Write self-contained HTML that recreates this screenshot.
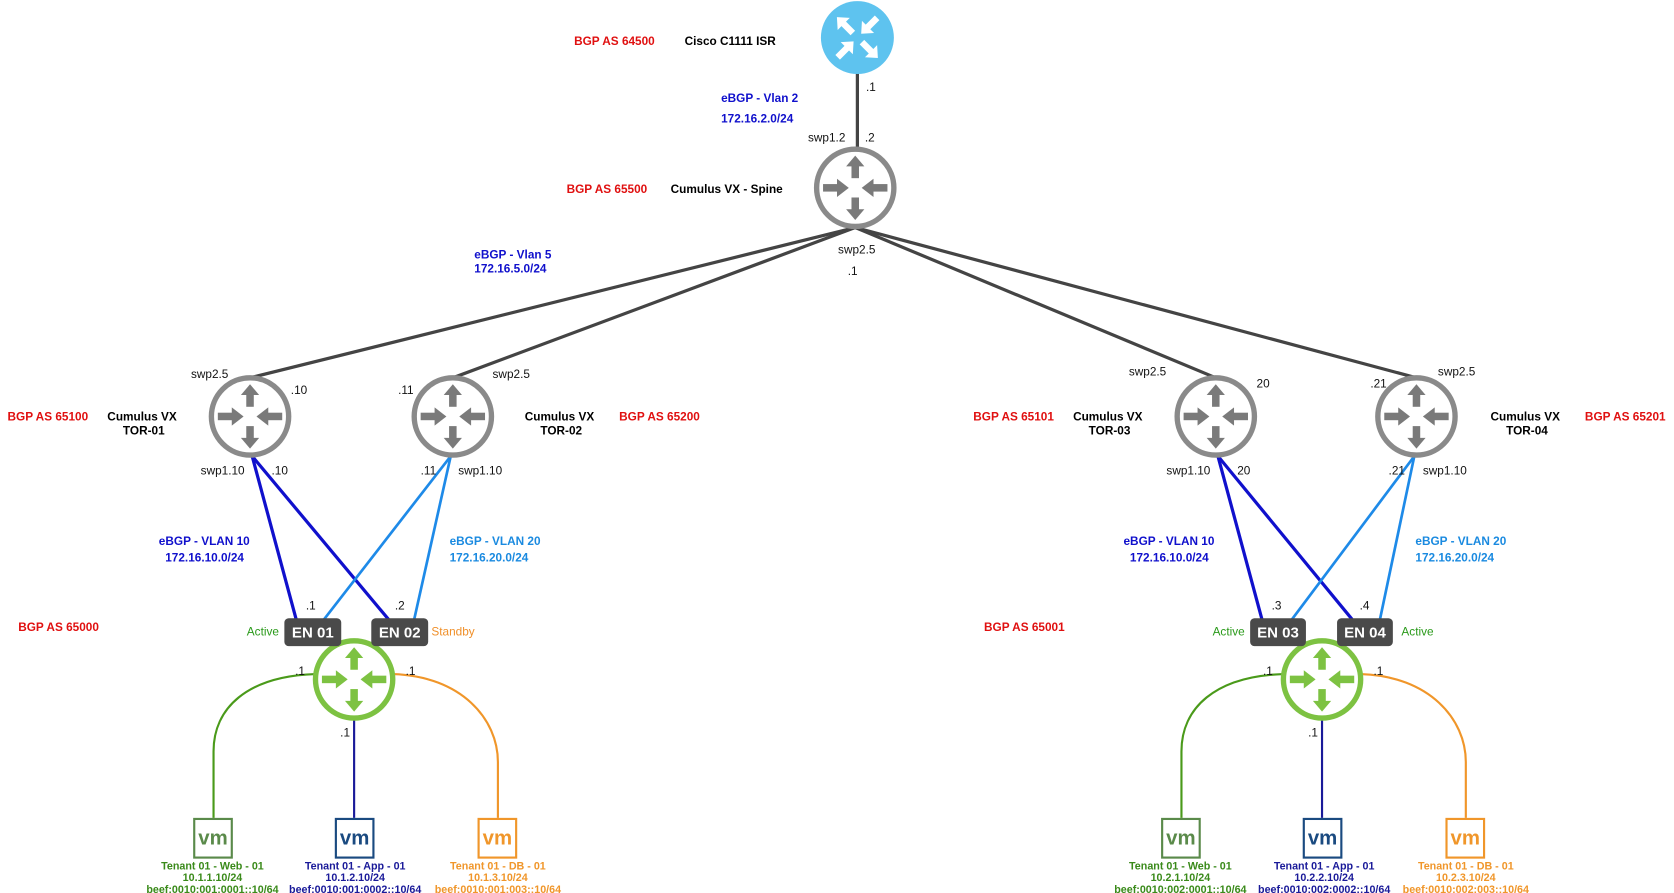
<!DOCTYPE html>
<html><head><meta charset="utf-8">
<style>
html,body{margin:0;padding:0;background:#fff;}
svg{display:block;}
text{font-family:"Liberation Sans",Arial,sans-serif;font-size:11px;}
.b{font-weight:bold;}
.r{fill:#e01010;font-weight:bold;}
.k{fill:#000;font-weight:bold;}
.bl{fill:#1010cc;font-weight:bold;}
.lb{fill:#1a8ae0;font-weight:bold;}
.n{fill:#111;}
.g{fill:#3a8a1a;font-weight:bold;font-size:10px;}
.nv{fill:#1a1a99;font-weight:bold;font-size:10px;}
.o{fill:#f0962a;font-weight:bold;font-size:10px;}
</style></head><body>
<svg width="1674" height="893" viewBox="0 0 1560 832" preserveAspectRatio="none" xmlns="http://www.w3.org/2000/svg">
<defs>
<g id="arr">
  <rect x="-3.5" y="-21" width="7" height="12"/>
  <polygon points="-8.5,-20 8.5,-20 0,-30"/>
  <rect x="-3.5" y="9" width="7" height="12"/>
  <polygon points="-8.5,20 8.5,20 0,30"/>
  <rect x="-30" y="-3.5" width="14" height="7"/>
  <polygon points="-17,-8.5 -17,8.5 -6,0"/>
  <rect x="16" y="-3.5" width="14" height="7"/>
  <polygon points="17,-8.5 17,8.5 6,0"/>
</g>
<g id="grey">
  <circle r="36" fill="#fff" stroke="#8a8a8a" stroke-width="5"/>
  <use href="#arr" fill="#7a7a7a"/>
</g>
<g id="green">
  <circle r="36" fill="#fff" stroke="#7dc242" stroke-width="5"/>
  <use href="#arr" fill="#7dc242"/>
</g>
</defs>

<!-- lines -->
<g stroke="#444" stroke-width="3" fill="none">
<line x1="799" y1="68" x2="799" y2="140"/>
<line x1="797" y1="212" x2="233" y2="352"/>
<line x1="797" y1="212" x2="422" y2="352"/>
<line x1="797" y1="212" x2="1133" y2="352"/>
<line x1="797" y1="212" x2="1320" y2="352"/>
</g>
<g stroke="#1010cc" stroke-width="3">
<line x1="235" y1="425" x2="276" y2="577"/>
<line x1="235" y1="425" x2="362" y2="577"/>
<line x1="1135" y1="425" x2="1176" y2="577"/>
<line x1="1135" y1="425" x2="1260" y2="577"/>
</g>
<g stroke="#1e8ae8" stroke-width="2.5">
<line x1="420" y1="425" x2="302" y2="577"/>
<line x1="420" y1="425" x2="386" y2="577"/>
<line x1="1318" y1="425" x2="1204" y2="577"/>
<line x1="1318" y1="425" x2="1286" y2="577"/>
</g>
<g fill="none" stroke-width="2">
<path d="M294,628 C230,630 199,660 199,700 L199,762" stroke="#4a9a1a"/>
<path d="M366,628 C430,630 464,670 464,710 L464,762" stroke="#f0962a"/>
<line x1="330" y1="670" x2="330" y2="762" stroke="#1a1a99"/>
<path d="M1196,628 C1132,630 1101,660 1101,700 L1101,762" stroke="#4a9a1a"/>
<path d="M1268,628 C1332,630 1366,670 1366,710 L1366,762" stroke="#f0962a"/>
<line x1="1232" y1="670" x2="1232" y2="762" stroke="#1a1a99"/>
</g>

<!-- Cisco -->
<g transform="translate(799,35)">
<circle r="34" fill="#5ec3ef"/>
<g fill="#fff">
<g transform="rotate(45)"><polygon points="-3,-26 3,-26 3,-14 8,-14 0,-5 -8,-14 -3,-14"/></g>
<g transform="rotate(45)"><polygon points="-3,26 3,26 3,14 8,14 0,5 -8,14 -3,14"/></g>
<g transform="rotate(-45)"><polygon points="-3,-6 3,-6 3,-18 8,-18 0,-27 -8,-18 -3,-18"/></g>
<g transform="rotate(-45)"><polygon points="-3,6 3,6 3,18 8,18 0,27 -8,18 -3,18"/></g>
</g>
</g>

<use href="#grey" x="797" y="175"/>
<use href="#grey" x="233" y="388"/>
<use href="#grey" x="422" y="388"/>
<use href="#grey" x="1133" y="388"/>
<use href="#grey" x="1320" y="388"/>
<use href="#green" x="330" y="633"/>
<use href="#green" x="1232" y="633"/>

<!-- EN boxes -->
<g fill="#4a4a4a">
<rect x="265" y="576" width="53" height="26" rx="4"/>
<rect x="346" y="576" width="53" height="26" rx="4"/>
<rect x="1165" y="576" width="52" height="26" rx="4"/>
<rect x="1246" y="576" width="52" height="26" rx="4"/>
</g>
<g fill="#fff" font-weight="bold" text-anchor="middle" style="font-size:14px">
<text x="291.5" y="594" style="font-size:14px">EN 01</text>
<text x="372.5" y="594" style="font-size:14px">EN 02</text>
<text x="1191" y="594" style="font-size:14px">EN 03</text>
<text x="1272" y="594" style="font-size:14px">EN 04</text>
</g>

<!-- VMs -->
<g fill="#fff" stroke-width="2">
<rect x="181" y="763" width="35" height="36" stroke="#5a8a4a"/>
<rect x="313" y="763" width="35" height="36" stroke="#1a4a80"/>
<rect x="446" y="763" width="35" height="36" stroke="#f0962a"/>
<rect x="1083" y="763" width="35" height="36" stroke="#5a8a4a"/>
<rect x="1215" y="763" width="35" height="36" stroke="#1a4a80"/>
<rect x="1348" y="763" width="35" height="36" stroke="#f0962a"/>
</g>
<g font-weight="bold" text-anchor="middle">
<text x="198.5" y="787" fill="#5a8a4a" style="font-size:19px">vm</text>
<text x="330.5" y="787" fill="#1a4a80" style="font-size:19px">vm</text>
<text x="463.5" y="787" fill="#f0962a" style="font-size:19px">vm</text>
<text x="1100.5" y="787" fill="#5a8a4a" style="font-size:19px">vm</text>
<text x="1232.5" y="787" fill="#1a4a80" style="font-size:19px">vm</text>
<text x="1365.5" y="787" fill="#f0962a" style="font-size:19px">vm</text>
</g>
<g text-anchor="middle">
<text class="g" x="198" y="810">Tenant 01 - Web - 01</text>
<text class="g" x="198" y="821">10.1.1.10/24</text>
<text class="g" x="198" y="832">beef:0010:001:0001::10/64</text>
<text class="nv" x="331" y="810">Tenant 01 - App - 01</text>
<text class="nv" x="331" y="821">10.1.2.10/24</text>
<text class="nv" x="331" y="832">beef:0010:001:0002::10/64</text>
<text class="o" x="464" y="810">Tenant 01 - DB - 01</text>
<text class="o" x="464" y="821">10.1.3.10/24</text>
<text class="o" x="464" y="832">beef:0010:001:003::10/64</text>
<text class="g" x="1100" y="810">Tenant 01 - Web - 01</text>
<text class="g" x="1100" y="821">10.2.1.10/24</text>
<text class="g" x="1100" y="832">beef:0010:002:0001::10/64</text>
<text class="nv" x="1234" y="810">Tenant 01 - App - 01</text>
<text class="nv" x="1234" y="821">10.2.2.10/24</text>
<text class="nv" x="1234" y="832">beef:0010:002:0002::10/64</text>
<text class="o" x="1366" y="810">Tenant 01 - DB - 01</text>
<text class="o" x="1366" y="821">10.2.3.10/24</text>
<text class="o" x="1366" y="832">beef:0010:002:003::10/64</text>
</g>

<!-- labels -->
<text class="r" x="535" y="42">BGP AS 64500</text>
<text class="k" x="638" y="42">Cisco C1111 ISR</text>
<text class="n" x="807" y="85">.1</text>
<text class="bl" x="672" y="95">eBGP - Vlan 2</text>
<text class="bl" x="672" y="114">172.16.2.0/24</text>
<text class="n" x="753" y="132">swp1.2</text>
<text class="n" x="806" y="132">.2</text>
<text class="r" x="528" y="180">BGP AS 65500</text>
<text class="k" x="625" y="180">Cumulus VX - Spine</text>
<text class="bl" x="442" y="241">eBGP - Vlan 5</text>
<text class="bl" x="442" y="254">172.16.5.0/24</text>
<text class="n" x="781" y="236">swp2.5</text>
<text class="n" x="790" y="256">.1</text>

<text class="n" x="178" y="352">swp2.5</text>
<text class="n" x="271" y="367">.10</text>
<text class="n" x="371" y="367">.11</text>
<text class="n" x="459" y="352">swp2.5</text>
<text class="n" x="1052" y="350">swp2.5</text>
<text class="n" x="1171" y="361">20</text>
<text class="n" x="1277" y="361">.21</text>
<text class="n" x="1340" y="350">swp2.5</text>

<text class="r" x="7" y="392">BGP AS 65100</text>
<text class="k" x="100" y="392">Cumulus VX</text>
<text class="k" x="134" y="405" text-anchor="middle">TOR-01</text>
<text class="k" x="489" y="392">Cumulus VX</text>
<text class="k" x="523" y="405" text-anchor="middle">TOR-02</text>
<text class="r" x="577" y="392">BGP AS 65200</text>
<text class="r" x="907" y="392">BGP AS 65101</text>
<text class="k" x="1000" y="392">Cumulus VX</text>
<text class="k" x="1034" y="405" text-anchor="middle">TOR-03</text>
<text class="k" x="1389" y="392">Cumulus VX</text>
<text class="k" x="1423" y="405" text-anchor="middle">TOR-04</text>
<text class="r" x="1477" y="392">BGP AS 65201</text>

<text class="n" x="187" y="442">swp1.10</text>
<text class="n" x="253" y="442">.10</text>
<text class="n" x="392" y="442">.11</text>
<text class="n" x="427" y="442">swp1.10</text>
<text class="n" x="1087" y="442">swp1.10</text>
<text class="n" x="1153" y="442">20</text>
<text class="n" x="1294" y="442">.21</text>
<text class="n" x="1326" y="442">swp1.10</text>

<text class="bl" x="148" y="508">eBGP - VLAN 10</text>
<text class="bl" x="154" y="523">172.16.10.0/24</text>
<text class="lb" x="419" y="508">eBGP - VLAN 20</text>
<text class="lb" x="419" y="523">172.16.20.0/24</text>
<text class="bl" x="1047" y="508">eBGP - VLAN 10</text>
<text class="bl" x="1053" y="523">172.16.10.0/24</text>
<text class="lb" x="1319" y="508">eBGP - VLAN 20</text>
<text class="lb" x="1319" y="523">172.16.20.0/24</text>

<text class="n" x="285" y="568">.1</text>
<text class="n" x="368" y="568">.2</text>
<text class="n" x="1185" y="568">.3</text>
<text class="n" x="1267" y="568">.4</text>

<text class="r" x="17" y="588">BGP AS 65000</text>
<text class="r" x="917" y="588">BGP AS 65001</text>
<text x="230" y="592" fill="#2a9a1a">Active</text>
<text x="402" y="592" fill="#f0902a">Standby</text>
<text x="1130" y="592" fill="#2a9a1a">Active</text>
<text x="1306" y="592" fill="#2a9a1a">Active</text>

<text class="n" x="275" y="629">.1</text>
<text class="n" x="378" y="629">.1</text>
<text class="n" x="317" y="686">.1</text>
<text class="n" x="1177" y="629">.1</text>
<text class="n" x="1280" y="629">.1</text>
<text class="n" x="1219" y="686">.1</text>
</svg>
</body></html>
